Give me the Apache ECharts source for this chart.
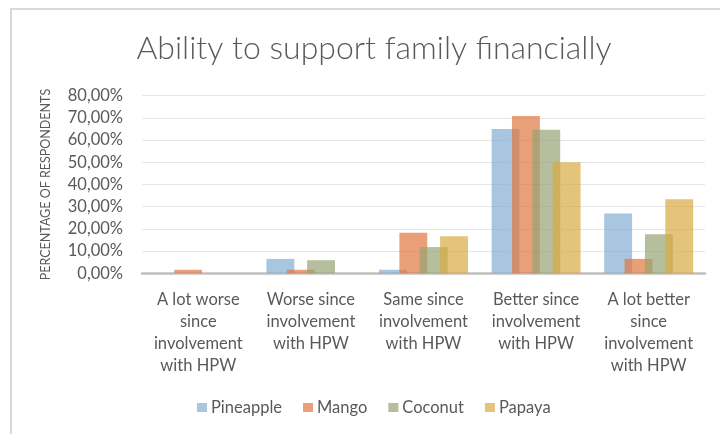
<!DOCTYPE html>
<html><head><meta charset="utf-8">
<script src="https://cdn.jsdelivr.net/npm/echarts@6/dist/echarts.min.js"></script>
<style>html,body{margin:0;padding:0;background:#fff}#c{width:720px;height:434px}</style>
</head><body><div id="c"></div>
<script>
const categories = [
  "A lot worse\nsince\ninvolvement\nwith HPW",
  "Worse since\ninvolvement\nwith HPW",
  "Same since\ninvolvement\nwith HPW",
  "Better since\ninvolvement\nwith HPW",
  "A lot better\nsince\ninvolvement\nwith HPW"
];
const seriesNames = ["Pineapple", "Mango", "Coconut", "Papaya"];
const pineapple = [0, 6.5, 1.6, 65.0, 26.9];
const mango = [1.6, 1.6, 18.3, 70.8, 6.5];
const coconut = [0, 5.9, 11.8, 64.7, 17.6];
const papaya = [0, 0, 16.7, 50.0, 33.3];
const yTicks = [0, 10, 20, 30, 40, 50, 60, 70, 80];

const colors = ['rgba(132,174,211,0.7)', 'rgba(224,119,62,0.7)', 'rgba(149,162,116,0.7)', 'rgba(215,171,65,0.7)'];
const FONT = 'Lato';
const values = [pineapple, mango, coconut, papaya];

const chart = echarts.init(document.getElementById('c'), null, {renderer: 'canvas'});
chart.setOption({
  animation: false,
  color: colors,
  textStyle: {fontFamily: FONT},
  graphic: [{
    type: 'rect', left: 10, top: 8, z: -1,
    shape: {width: 760, height: 480},
    style: {fill: '#fff', stroke: '#d9d9d9', lineWidth: 2}
  }],
  title: {
    text: 'Ability to support family financially',
    left: 369, top: 28, textAlign: 'center',
    textStyle: {fontFamily: FONT, fontSize: 32, fontWeight: 300, color: '#595959'}
  },
  legend: {
    data: seriesNames, bottom: 13, left: 192, padding: 5,
    itemWidth: 10, itemHeight: 9, itemGap: 21, icon: 'rect',
    textStyle: {fontFamily: FONT, fontSize: 16.5, color: '#595959', padding: [0, 0, 0, -1]}
  },
  grid: {left: 142, right: 15, top: 95.7, bottom: 160.7, containLabel: false},
  xAxis: {
    type: 'category', data: categories,
    axisLine: {lineStyle: {color: '#bfbfbf', width: 2.5}},
    axisTick: {show: false},
    axisLabel: {fontFamily: FONT, fontSize: 16.5, color: '#595959', lineHeight: 22, margin: 15, interval: 0}
  },
  yAxis: {
    type: 'value', min: yTicks[0], max: yTicks[yTicks.length - 1], interval: 10,
    name: 'PERCENTAGE OF RESPONDENTS', nameLocation: 'middle', nameGap: 90, nameRotate: 90,
    nameTextStyle: {fontFamily: FONT, fontSize: 12.5, color: '#595959'},
    axisLine: {show: false}, axisTick: {show: false},
    splitLine: {lineStyle: {color: '#e6e6e6', width: 1}},
    axisLabel: {fontFamily: FONT, fontSize: 16.5, color: '#595959', margin: 19,
      formatter: v => v.toFixed(2).replace('.', ',') + '%'}
  },
  series: seriesNames.map((n, i) => ({
    name: n, type: 'bar', data: values[i],
    barGap: '-27%', barCategoryGap: '21%',
    itemStyle: {color: colors[i]}
  }))
});
</script></body></html>
